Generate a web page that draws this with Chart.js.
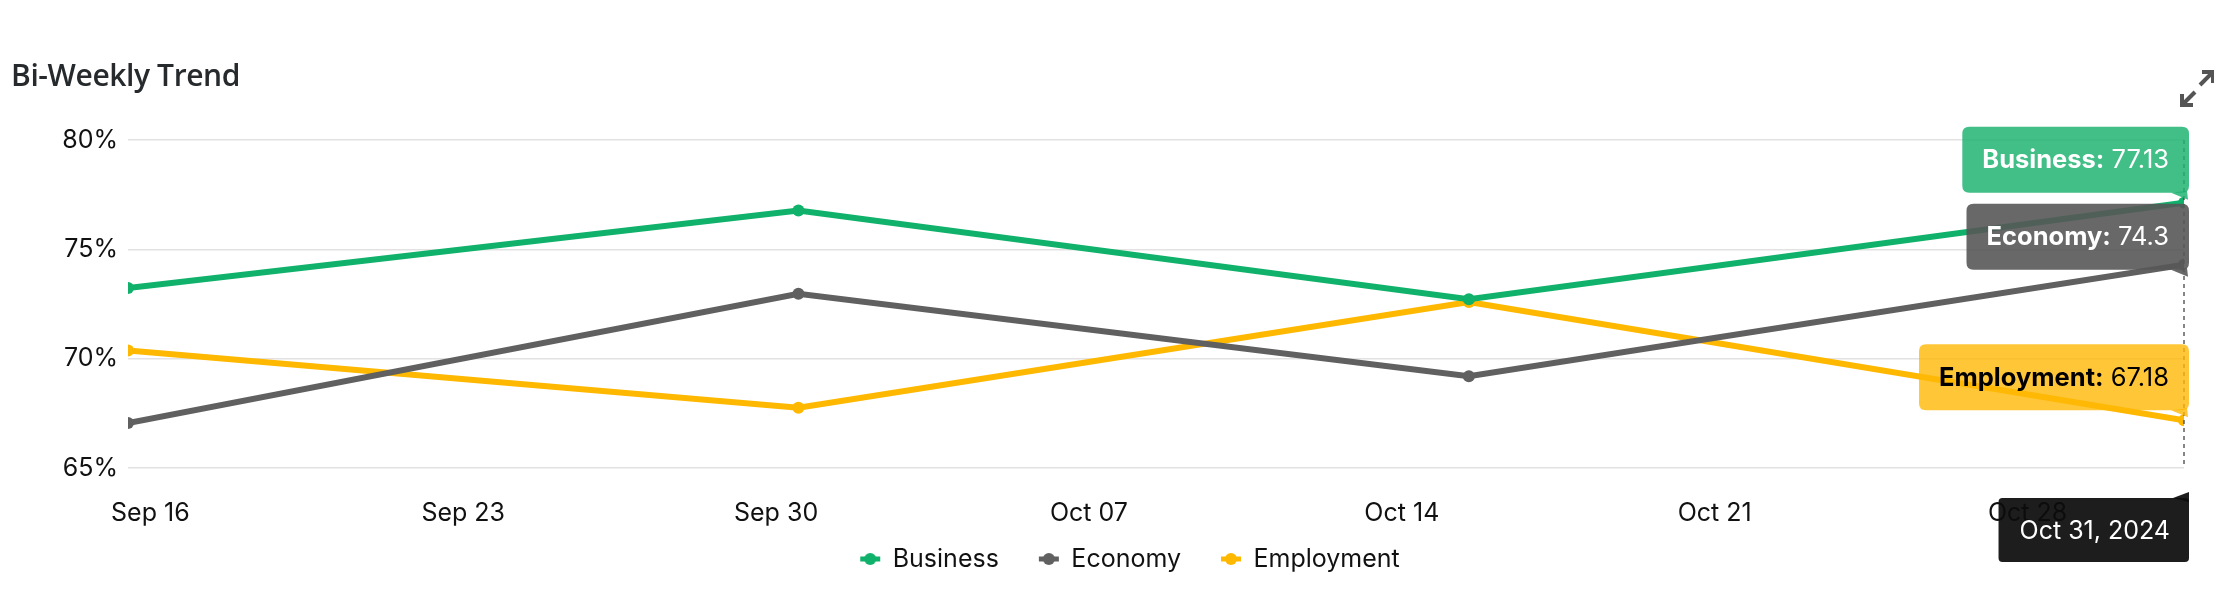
<!DOCTYPE html>
<html><head><meta charset="utf-8">
<script src="https://cdn.jsdelivr.net/npm/chart.js@4.4.1/dist/chart.umd.min.js"></script>
<style>
html,body{margin:0;padding:0;background:#fff;width:2214px;height:596px;overflow:hidden;}
#wrap{position:absolute;left:0;top:0;width:2214px;height:596px;}
#title{position:absolute;left:11px;top:54px;font-family:"Open Sans",sans-serif;font-weight:600;font-size:30px;color:#262a2c;letter-spacing:-0.4px;}
#expand{position:absolute;left:2170px;top:60px;}
</style></head><body>
<div id="wrap"><canvas id="c" width="2214" height="596"></canvas></div>
<div id="title">Bi-Weekly Trend</div>
<svg id="expand" width="44" height="55" viewBox="0 0 44 55">
  <g fill="none" stroke="#555" stroke-width="4" stroke-linecap="butt" stroke-linejoin="miter">
    <polyline points="12,34 12,45 23,45"/><line x1="12" y1="45" x2="25" y2="32"/>
    <polyline points="32,12 43,12 43,23"/><line x1="43" y1="12" x2="30" y2="25"/>
  </g>
</svg>
<script>
// ---- data ----
const seriesNames = ['Business', 'Economy', 'Employment'];
const pointDates = ['2024-09-15T12:00', '2024-09-30T12:00', '2024-10-15T12:00', '2024-10-31T12:00'];
const business = [73.23, 76.78, 72.72, 77.13];
const economy = [67.06, 72.97, 69.2, 74.3];
const employment = [70.37, 67.76, 72.59, 67.18];
const tickDates = ['2024-09-16T00:00', '2024-09-23T00:00', '2024-09-30T00:00', '2024-10-07T00:00', '2024-10-14T00:00', '2024-10-21T00:00', '2024-10-28T00:00'];
const yTicks = [65, 70, 75, 80];
const monthNames = ['Jan','Feb','Mar','Apr','May','Jun','Jul','Aug','Sep','Oct','Nov','Dec'];

// ---- styles ----
const lineColors = ['#10b16b', '#606060', '#ffb800'];
const boxColors = ['rgba(30,178,112,0.84)', 'rgba(88,88,88,0.9)', 'rgba(255,184,5,0.8)'];
const boxTextColors = ['#ffffff', '#ffffff', '#000000'];
const FONT = 'Inter, "Noto Sans", sans-serif';

const seriesValues = [business, economy, employment];
const toDay = s => Date.parse(s + ':00Z') / 864e5;
const xs = pointDates.map(toDay);
const tickXs = tickDates.map(toDay);
const pad2 = n => (n < 10 ? '0' : '') + n;
const fmtTick = v => { const d = new Date(Math.round(v * 864e5)); return monthNames[d.getUTCMonth()] + ' ' + pad2(d.getUTCDate()); };
const fmtLong = v => { const d = new Date(Math.round(v * 864e5)); return monthNames[d.getUTCMonth()] + ' ' + d.getUTCDate() + ', ' + d.getUTCFullYear(); };

function makeIcon(color) {
  const c = document.createElement('canvas');
  c.width = 22; c.height = 14;
  const g = c.getContext('2d');
  g.strokeStyle = color; g.lineWidth = 5;
  g.beginPath(); g.moveTo(1, 7); g.lineTo(21, 7); g.stroke();
  g.fillStyle = color; g.beginPath(); g.arc(11, 7, 6, 0, Math.PI * 2); g.fill();
  return c;
}
const icons = lineColors.map(makeIcon);

function rr(ctx, x, y, w, h, r) {
  ctx.beginPath();
  ctx.moveTo(x + r, y); ctx.lineTo(x + w - r, y); ctx.quadraticCurveTo(x + w, y, x + w, y + r);
  ctx.lineTo(x + w, y + h - r); ctx.quadraticCurveTo(x + w, y + h, x + w - r, y + h);
  ctx.lineTo(x + r, y + h); ctx.quadraticCurveTo(x, y + h, x, y + h - r);
  ctx.lineTo(x, y + r); ctx.quadraticCurveTo(x, y, x + r, y); ctx.closePath();
}

// place the legend row under the tick labels
const legendPlace = {
  id: 'legendPlace',
  afterLayout(chart) {
    const lg = chart.legend;
    if (!lg) return;
    const dy = lg.top - (chart.chartArea.bottom + 38.5);
    lg.top -= dy; lg.bottom -= dy;
    lg.left += 38; lg.right += 38;
  }
};

const overlay = {
  id: 'overlay',
  afterDraw(chart) {
    const { ctx, chartArea, scales: { x } } = chart;
    const last = xs.length - 1;
    const px = x.getPixelForValue(xs[last]);
    ctx.save();
    ctx.setLineDash([4, 4]); ctx.strokeStyle = '#444'; ctx.lineWidth = 1.3;
    ctx.beginPath(); ctx.moveTo(px, chartArea.top); ctx.lineTo(px, chartArea.bottom); ctx.stroke();
    ctx.setLineDash([]);
    const items = chart.data.datasets.map((ds, i) => ({ i, y: chart.getDatasetMeta(i).data[last].y, v: ds.data[last].y, label: ds.label }));
    items.sort((a, b) => a.y - b.y);
    let prevBottom = -Infinity;
    const H = 66, padX = 20, R = 7, gap = 11, lift = 10, fs = 25.5;
    const right = Math.min(px + 5, chart.width);
    items.forEach(it => {
      ctx.font = 'bold ' + fs + 'px ' + FONT; const w1 = ctx.measureText(it.label + ':').width;
      ctx.font = fs + 'px ' + FONT; const vt = ' ' + it.v; const w2 = ctx.measureText(vt).width;
      const W = w1 + w2 + 2 * padX;
      let top = it.y - lift - H;
      if (top < prevBottom + gap) top = prevBottom + gap;
      const bottom = top + H;
      prevBottom = bottom;
      ctx.fillStyle = boxColors[it.i];
      rr(ctx, right - W, top, W, H, R); ctx.fill();
      ctx.beginPath(); ctx.moveTo(right - 18, bottom); ctx.lineTo(right - 2, bottom - 2); ctx.lineTo(right - 1, bottom + 7); ctx.closePath(); ctx.fill();
      ctx.fillStyle = boxTextColors[it.i]; ctx.textBaseline = 'middle'; ctx.textAlign = 'left';
      const tx = right - padX - w1 - w2, ty = top + H / 2 + 1;
      ctx.font = 'bold ' + fs + 'px ' + FONT; ctx.fillText(it.label + ':', tx, ty);
      ctx.font = fs + 'px ' + FONT; ctx.fillText(vt, tx + w1, ty);
    });
    // date box
    const dt = fmtLong(xs[last]);
    ctx.font = '25px ' + FONT; const dw = ctx.measureText(dt).width + 40;
    const dtop = chartArea.bottom + 30, dh = 64;
    ctx.fillStyle = 'rgba(12,12,12,0.93)';
    rr(ctx, right - dw, dtop, dw, dh, 4); ctx.fill();
    ctx.beginPath(); ctx.moveTo(right - 16, dtop); ctx.lineTo(right, dtop - 6); ctx.lineTo(right, dtop + 4); ctx.closePath(); ctx.fill();
    ctx.fillStyle = '#fff'; ctx.textAlign = 'right'; ctx.textBaseline = 'middle';
    ctx.fillText(dt, right - 19, dtop + dh / 2 + 1);
    ctx.restore();
  }
};

Chart.defaults.font.family = FONT;
Chart.defaults.font.size = 25;
Chart.defaults.color = '#111';

new Chart(document.getElementById('c'), {
  type: 'line',
  data: {
    datasets: seriesNames.map((n, i) => ({
      label: n,
      data: seriesValues[i].map((v, j) => ({ x: xs[j], y: v })),
      borderColor: lineColors[i], backgroundColor: lineColors[i],
      borderWidth: 6, tension: 0,
      pointRadius: 6, pointHoverRadius: 6, pointBorderWidth: 0,
      pointBackgroundColor: lineColors[i]
    }))
  },
  options: {
    responsive: false, animation: false, devicePixelRatio: 1,
    events: [],
    layout: { padding: { left: 0, right: 30, top: 140, bottom: -10 } },
    scales: {
      x: {
        type: 'linear', min: xs[0], max: xs[xs.length - 1],
        grid: { display: false, drawTicks: false }, border: { display: false },
        afterBuildTicks: s => { s.ticks = tickXs.map(v => ({ value: v })); },
        afterFit: s => { s.height = 63; },
        ticks: { padding: 30, maxRotation: 0, autoSkip: false, color: '#111', callback: v => fmtTick(v) }
      },
      y: {
        min: 65, max: 80,
        afterBuildTicks: s => { s.ticks = yTicks.map(v => ({ value: v })); },
        afterFit: s => { s.width = 128; },
        grid: { color: '#e2e2e2', lineWidth: 1.5, drawTicks: false }, border: { display: false },
        ticks: { padding: 10, color: '#111', callback: v => v + '%' }
      }
    },
    plugins: {
      tooltip: { enabled: false },
      legend: {
        position: 'bottom',
        labels: {
          usePointStyle: true, pointStyleWidth: 20, padding: 40, color: '#111',
          font: { size: 25 },
          generateLabels: chart => Chart.defaults.plugins.legend.labels.generateLabels(chart).map((l, i) => Object.assign(l, { pointStyle: icons[i] }))
        }
      }
    }
  },
  plugins: [legendPlace, overlay]
});
</script>
</body></html>
